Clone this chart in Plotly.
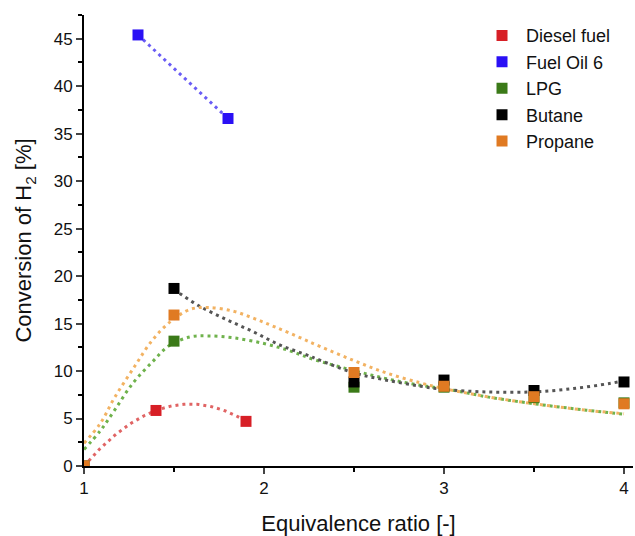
import numpy as np
import plotly.graph_objects as go

# ---- Measured data points ----
diesel_x = [1.0, 1.4, 1.9]
diesel_y = [0.0, 5.85, 4.7]
fuel6_x = [1.3, 1.8]
fuel6_y = [45.4, 36.6]
lpg_x = [1.0, 1.5, 2.5, 3.0, 3.5, 4.0]
lpg_y = [0.0, 13.15, 8.3, 8.3, 7.2, 6.65]
butane_x = [1.5, 2.5, 3.0, 3.5, 4.0]
butane_y = [18.7, 8.85, 9.05, 7.95, 8.85]
propane_x = [1.0, 1.5, 2.5, 3.0, 3.5, 4.0]
propane_y = [0.0, 15.9, 9.85, 8.4, 7.3, 6.55]

# ---- Trend curves ----
lpg_fit_x = [1.0, 1.09, 1.17, 1.27, 1.38, 1.47, 1.59, 1.69, 1.83, 2.0, 2.14,
             2.28, 2.5, 2.68, 2.87, 3.05, 3.24, 3.49, 3.79, 4.0]
lpg_fit_y = [1.75, 3.7, 5.88, 8.69, 10.97, 12.63, 13.6, 13.7, 13.5, 12.9, 12.15,
             11.2, 10.05, 9.2, 8.5, 7.98, 7.28, 6.58, 5.88, 5.45]
butane_fit_x = [1.5, 1.53, 1.64, 1.79, 1.94, 2.09, 2.24, 2.31, 2.5, 2.68, 2.87,
                3.0, 3.24, 3.49, 3.72, 3.92, 4.0]
butane_fit_y = [18.6, 18.2, 16.85, 15.44, 14.14, 12.73, 11.68, 11.15, 9.8, 9.04,
                8.4, 8.06, 7.8, 7.8, 8.16, 8.69, 8.97]
propane_fit_x = [1.0, 1.09, 1.17, 1.28, 1.38, 1.48, 1.59, 1.69, 1.83, 1.95, 2.06,
                 2.19, 2.31, 2.5, 2.68, 2.87, 3.0, 3.24, 3.49, 3.79, 4.0]
propane_fit_y = [2.4, 4.47, 7.21, 10.45, 13.26, 15.2, 16.5, 16.7, 16.3, 15.5, 14.65,
                 13.6, 12.6, 11.1, 9.8, 8.75, 8.15, 7.3, 6.58, 5.88, 5.5]

names = ["Diesel fuel", "Fuel Oil 6", "LPG", "Butane", "Propane"]
marker_colors = ["#d71f26", "#2a10f5", "#3b7a18", "#000000", "#e07a22"]
line_colors = ["#e06464", "#6a5cf5", "#6fb24c", "#555555", "#f2b262"]

# Diesel trend: quadratic through its three points
d_coef = np.polyfit(diesel_x, diesel_y, 2)
d_fx = np.linspace(min(diesel_x), max(diesel_x), 100)
d_fy = np.polyval(d_coef, d_fx)

fits = [
    (d_fx, d_fy, "linear"),
    (fuel6_x, fuel6_y, "linear"),
    (lpg_fit_x, lpg_fit_y, "spline"),
    (butane_fit_x, butane_fit_y, "spline"),
    (propane_fit_x, propane_fit_y, "spline"),
]
points = [
    (diesel_x, diesel_y),
    (fuel6_x, fuel6_y),
    (lpg_x, lpg_y),
    (butane_x, butane_y),
    (propane_x, propane_y),
]

fig = go.Figure()

for (fx, fy, shape), lc in zip(fits, line_colors):
    fig.add_trace(go.Scatter(x=fx, y=fy, mode="lines", showlegend=False,
                             hoverinfo="skip",
                             line=dict(color=lc, width=3, dash="3px,4px",
                                       shape=shape, smoothing=1)))

for (px, py), name, mc in zip(points, names, marker_colors):
    fig.add_trace(go.Scatter(x=px, y=py, mode="markers", name=name,
                             marker=dict(symbol="square", size=11, color=mc,
                                         line=dict(width=0))))

font = "Liberation Sans, Arial, sans-serif"
fig.update_layout(
    width=635, height=536,
    margin=dict(l=84, r=2, t=15, b=70),
    plot_bgcolor="white", paper_bgcolor="white",
    font=dict(family=font, size=17, color="#111111"),
    legend=dict(x=0.7177, y=0.995, xanchor="left", yanchor="top",
                bgcolor="rgba(0,0,0,0)", font=dict(size=18),
                itemwidth=38, tracegroupgap=0),
    xaxis=dict(range=[1, 4.05], tickvals=[1, 2, 3, 4], ticks="outside",
               ticklen=6, tickwidth=2, showline=True, linecolor="black",
               linewidth=2, showgrid=False, zeroline=False,
               minor=dict(tickvals=[1.5, 2.5, 3.5], ticks="outside",
                          ticklen=4, tickwidth=2, tickcolor="black"),
               title=dict(text="Equivalence ratio [-]", font=dict(size=22),
                          standoff=21)),
    yaxis=dict(range=[0, 47.5], dtick=5, tick0=0, ticks="outside",
               ticklen=6, tickwidth=2, showline=True, linecolor="black",
               linewidth=2, showgrid=False, zeroline=False,
               minor=dict(dtick=2.5, ticks="outside", ticklen=4,
                          tickwidth=2, tickcolor="black"),
               title=dict(text="Conversion of H<sub>2</sub> [%]",
                          font=dict(size=22), standoff=16)),
)

fig.write_html("out.html")
